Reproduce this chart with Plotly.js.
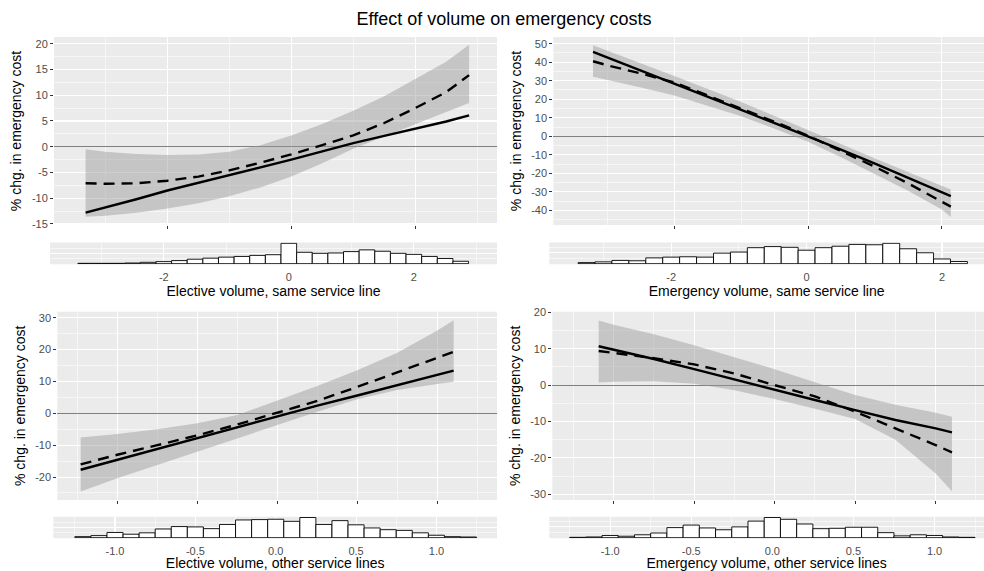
<!DOCTYPE html>
<html>
<head>
<meta charset="utf-8">
<script src="https://cdn.plot.ly/plotly-3.0.1.min.js"></script>
<style>html,body{margin:0;padding:0;background:#fff;}#chart{width:984px;height:571px;}</style>
</head>
<body>
<div id="chart"></div>
<script>
// ---------- Titles ----------
const chartTitle = "Effect of volume on emergency costs";
const yTitle = "% chg. in emergency cost";
const xTitles = ["Elective volume, same service line", "Emergency volume, same service line",
                 "Elective volume, other service lines", "Emergency volume, other service lines"];

// ---------- Panel 1: Elective volume, same service line ----------
const p1X      = [-3.32, -3, -2.5, -2, -1.5, -1, -0.5, 0, 0.5, 1, 1.5, 2, 2.5, 2.87];
const p1Solid  = [-12.8, -11.8, -10.2, -8.5, -7.0, -5.6, -4.1, -2.5, -0.9, 0.7, 2.1, 3.5, 4.9, 6.1];
const p1Dashed = [-7.1, -7.2, -7.1, -6.6, -5.8, -4.6, -3.1, -1.5, 0.3, 2.2, 4.6, 7.5, 10.6, 13.9];
const p1Upper  = [-0.5, -1.0, -1.4, -1.6, -1.5, -1.0, 0.3, 2.2, 4.4, 7.0, 9.8, 13.1, 16.5, 19.8];
const p1Lower  = [-13.6, -13.4, -12.8, -12.0, -11.0, -9.6, -7.9, -5.8, -3.2, -0.4, 2.0, 4.4, 6.8, 8.5];
const h1Bins   = [-3.25, -3.0, -2.75, -2.5, -2.25, -2.0, -1.75, -1.5, -1.25, -1.0, -0.75, -0.5, -0.25,
                  0.0, 0.25, 0.5, 0.75, 1.0, 1.25, 1.5, 1.75, 2.0, 2.25, 2.5, 2.75];
const h1Counts = [1, 1, 1, 2, 4, 6, 9, 13, 16, 19, 21, 24, 26, 59, 33, 30, 31, 35, 40, 36, 30, 27, 21, 15, 7];

// ---------- Panel 2: Emergency volume, same service line ----------
const p2X      = [-3.216, -3, -2.5, -2, -1.5, -1, -0.5, 0, 0.5, 1, 1.5, 2, 2.134];
const p2Solid  = [45.6, 42.5, 35.6, 28.5, 21.4, 14.2, 7.1, 0, -7.3, -14.8, -22.5, -30.2, -32.3];
const p2Dashed = [40.5, 38.3, 33.9, 29.0, 22.0, 15.0, 7.8, 0.3, -8.0, -16.5, -25.5, -35.5, -38.0];
const p2Upper  = [49.2, 46.3, 39.6, 32.5, 25.5, 18.5, 11.0, 3.5, -4.3, -12.0, -19.5, -27.0, -28.8];
const p2Lower  = [32.1, 30.4, 26.4, 22.0, 16.5, 10.8, 4.0, -3.0, -11.5, -20.5, -29.5, -39.5, -43.6];
const h2Bins   = [-3.25, -3.0, -2.75, -2.5, -2.25, -2.0, -1.75, -1.5, -1.25, -1.0, -0.75, -0.5, -0.25,
                  0.0, 0.25, 0.5, 0.75, 1.0, 1.25, 1.5, 1.75, 2.0, 2.25];
const h2Counts = [3, 5, 9, 8, 16, 18, 19, 18, 29, 32, 44, 47, 45, 37, 44, 48, 53, 52, 56, 41, 30, 13, 6];

// ---------- Panel 3: Elective volume, other service lines ----------
const p3X      = [-1.229, -1, -0.75, -0.5, -0.25, 0, 0.25, 0.5, 0.75, 1, 1.102];
const p3Solid  = [-17.7, -14.6, -11.2, -7.8, -4.3, -0.9, 2.4, 5.6, 8.9, 12.1, 13.4];
const p3Dashed = [-16.0, -13.0, -10.0, -6.9, -3.5, 0.1, 3.9, 8.3, 12.9, 17.6, 19.3];
const p3Upper  = [-7.6, -6.5, -5.0, -3.1, -0.5, 4.0, 8.6, 13.5, 19.0, 26.0, 29.2];
const p3Lower  = [-24.5, -20.4, -16.2, -12.0, -7.8, -3.7, 0.5, 4.4, 7.3, 9.2, 9.9];
const h3Bins   = [-1.2, -1.1, -1.0, -0.9, -0.8, -0.7, -0.6, -0.5, -0.4, -0.3, -0.2, -0.1, 0.0,
                  0.1, 0.2, 0.3, 0.4, 0.5, 0.6, 0.7, 0.8, 0.9, 1.0, 1.1, 1.2];
const h3Counts = [3, 6, 15, 10, 14, 25, 32, 31, 26, 38, 51, 52, 53, 47, 58, 38, 49, 37, 28, 23, 21, 14, 7, 3, 2];

// ---------- Panel 4: Emergency volume, other service lines ----------
const p4X      = [-1.093, -1, -0.75, -0.5, -0.25, 0, 0.25, 0.5, 0.75, 1, 1.101];
const p4Solid  = [10.7, 9.8, 7.2, 4.4, 1.5, -1.2, -4.1, -6.9, -9.6, -11.9, -13.0];
const p4Dashed = [9.4, 8.9, 7.4, 5.7, 3.2, 0.0, -3.1, -7.3, -11.8, -16.5, -18.5];
const p4Upper  = [17.8, 16.6, 14.0, 11.0, 7.7, 4.4, 0.8, -2.7, -5.4, -7.6, -8.7];
const p4Lower  = [0.7, 0.9, 1.1, 0.4, -1.4, -3.8, -6.5, -9.3, -15.0, -24.3, -29.2];
const h4Bins   = [-1.2, -1.1, -1.0, -0.9, -0.8, -0.7, -0.6, -0.5, -0.4, -0.3, -0.2, -0.1, 0.0,
                  0.1, 0.2, 0.3, 0.4, 0.5, 0.6, 0.7, 0.8, 0.9, 1.0, 1.1, 1.2];
const h4Counts = [1, 2, 6, 4, 8, 13, 28, 35, 27, 22, 30, 46, 56, 51, 38, 25, 26, 29, 29, 14, 5, 8, 6, 2, 1];

// ---------- Tick labels ----------
const xTicksWide   = [-2, 0, 2];
const xLabelsWide  = ["-2", "0", "2"];
const xTicksNarrow = [-1, -0.5, 0, 0.5, 1];
const xLabelsNarrow= ["-1.0", "-0.5", "0.0", "0.5", "1.0"];
const y1Ticks  = [-15, -10, -5, 0, 5, 10, 15, 20];
const y1Labels = ["-15", "-10", "-5", "0", "5", "10", "15", "20"];
const y2Ticks  = [-40, -30, -20, -10, 0, 10, 20, 30, 40, 50];
const y2Labels = ["-40", "-30", "-20", "-10", "0", "10", "20", "30", "40", "50"];
const y3Ticks  = [-20, -10, 0, 10, 20, 30];
const y3Labels = ["-20", "-10", "0", "10", "20", "30"];
const y4Ticks  = [-30, -20, -10, 0, 10, 20];
const y4Labels = ["-30", "-20", "-10", "0", "10", "20"];

// ---------- Build ----------
const FONT = "Liberation Sans, Arial, Helvetica, sans-serif";
const RIBBON = "rgba(150,150,150,0.45)";
const traces = [];

function addPanel(n, xs, solid, dashed, upper, lower, bins, counts, binW) {
  const xa = n === 1 ? "x" : "x" + (2 * n - 1);
  const ya = n === 1 ? "y" : "y" + (2 * n - 1);
  const hx = "x" + (2 * n), hy = "y" + (2 * n);
  traces.push({x: xs, y: lower, xaxis: xa, yaxis: ya, mode: "lines", line: {width: 0, color: RIBBON},
               showlegend: false, hoverinfo: "skip"});
  traces.push({x: xs, y: upper, xaxis: xa, yaxis: ya, mode: "lines", line: {width: 0, color: RIBBON},
               fill: "tonexty", fillcolor: RIBBON, showlegend: false, hoverinfo: "skip"});
  traces.push({x: xs, y: solid, xaxis: xa, yaxis: ya, mode: "lines", line: {width: 2.4, color: "#000"},
               showlegend: false});
  traces.push({x: xs, y: dashed, xaxis: xa, yaxis: ya, mode: "lines",
               line: {width: 2.4, color: "#000", dash: "11px,7px"}, showlegend: false});
  traces.push({type: "bar", x: bins, y: counts, width: binW, xaxis: hx, yaxis: hy,
               marker: {color: "#fff", line: {color: "#000", width: 0.9}}, showlegend: false});
}
addPanel(1, p1X, p1Solid, p1Dashed, p1Upper, p1Lower, h1Bins, h1Counts, 0.25);
addPanel(2, p2X, p2Solid, p2Dashed, p2Upper, p2Lower, h2Bins, h2Counts, 0.25);
addPanel(3, p3X, p3Solid, p3Dashed, p3Upper, p3Lower, h3Bins, h3Counts, 0.1);
addPanel(4, p4X, p4Solid, p4Dashed, p4Upper, p4Lower, h4Bins, h4Counts, 0.1);

const W = 984, H = 571;
const dx = (a, b) => [a / W, b / W];
const dy = (top, bot) => [1 - bot / H, 1 - top / H];

function mainX(anchor, dom, range, tv, minorDt) {
  return {domain: dom, range: range, anchor: anchor, tickmode: "array", tickvals: tv,
          showticklabels: false, ticks: "outside", ticklen: 3, tickwidth: 1, tickcolor: "#333",
          showgrid: true, gridcolor: "#fff", gridwidth: 1.1, zeroline: false, showline: false,
          minor: {tick0: 0, dtick: minorDt, showgrid: true, gridcolor: "#fff", gridwidth: 0.55},
          fixedrange: true};
}
function mainY(anchor, dom, range, tv, tt, minorDt) {
  return {domain: dom, range: range, anchor: anchor, tickmode: "array", tickvals: tv, ticktext: tt,
          ticks: "outside", ticklen: 3, tickwidth: 1, tickcolor: "#333",
          tickfont: {family: FONT, size: 11, color: "#4d4d4d"},
          showgrid: true, gridcolor: "#fff", gridwidth: 1.1,
          zeroline: true, zerolinecolor: "#808080", zerolinewidth: 1, showline: false,
          minor: {tick0: 0, dtick: minorDt, showgrid: true, gridcolor: "#fff", gridwidth: 0.55},
          title: {text: yTitle, font: {family: FONT, size: 14, color: "#000"}, standoff: 6},
          fixedrange: true};
}
function histX(anchor, dom, range, tv, tt, minorDt, title) {
  return {domain: dom, range: range, anchor: anchor, tickmode: "array", tickvals: tv, ticktext: tt,
          ticks: "outside", ticklen: 2, tickwidth: 1, tickcolor: "rgba(0,0,0,0)",
          tickfont: {family: FONT, size: 11, color: "#4d4d4d"},
          showgrid: true, gridcolor: "#fff", gridwidth: 1.1, zeroline: false, showline: false,
          minor: {tick0: 0, dtick: minorDt, showgrid: true, gridcolor: "#fff", gridwidth: 0.55},
          title: {text: title, font: {family: FONT, size: 14, color: "#000"}, standoff: 4},
          fixedrange: true};
}
function histY(anchor, dom, maxC) {
  return {domain: dom, range: [-0.03 * maxC, 1.04 * maxC], anchor: anchor, tickmode: "linear", tick0: 0, dtick: 30,
          showticklabels: false, ticks: "", showgrid: true, gridcolor: "#fff", gridwidth: 1.1,
          zeroline: false, showline: false,
          minor: {tick0: 0, dtick: 15, showgrid: true, gridcolor: "#fff", gridwidth: 0.55},
          fixedrange: true};
}

const layout = {
  width: W, height: H,
  margin: {l: 0, r: 0, t: 0, b: 0},
  paper_bgcolor: "#fff", plot_bgcolor: "#EBEBEB",
  font: {family: FONT, color: "#000"},
  showlegend: false, bargap: 0,
  title: {text: chartTitle, x: 504 / W, xanchor: "center", xref: "paper", y: 1 - 19 / H, yanchor: "middle",
          yref: "container", font: {family: FONT, size: 18, color: "#000"}},
  xaxis:  mainX("y",  dx(54, 497),  [-3.83, 3.32], xTicksWide, 1),
  yaxis:  mainY("x",  dy(37, 225),  [-15.2, 21.3], y1Ticks, y1Labels, 2.5),
  xaxis2: histX("y2", dx(50, 497),  [-3.82, 3.33], xTicksWide, xLabelsWide, 1, xTitles[0]),
  yaxis2: histY("x2", dy(242.5, 264.3), Math.max(...h1Counts)),
  xaxis3: mainX("y3", dx(553.3, 984), [-3.81, 2.63], xTicksWide, 1),
  yaxis3: mainY("x3", dy(37, 225),  [-47.9, 53.6], y2Ticks, y2Labels, 5),
  xaxis4: histX("y4", dx(549.3, 984), [-3.80, 2.62], xTicksWide, xLabelsWide, 1, xTitles[1]),
  yaxis4: histY("x4", dy(242.5, 264.3), Math.max(...h2Counts)),
  xaxis5: mainX("y5", dx(57.3, 497), [-1.375, 1.373], xTicksNarrow, 0.25),
  yaxis5: mainY("x5", dy(311.7, 500), [-27.2, 31.9], y3Ticks, y3Labels, 5),
  xaxis6: histX("y6", dx(53.3, 497), [-1.384, 1.377], xTicksNarrow, xLabelsNarrow, 0.25, xTitles[2]),
  yaxis6: histY("x6", dy(516.7, 538.3), Math.max(...h3Counts)),
  xaxis7: mainX("y7", dx(552.3, 984), [-1.381, 1.30], xTicksNarrow, 0.25),
  yaxis7: mainY("x7", dy(311.7, 500), [-31.6, 20.2], y4Ticks, y4Labels, 5),
  xaxis8: histX("y8", dx(549.3, 984), [-1.375, 1.305], xTicksNarrow, xLabelsNarrow, 0.25, xTitles[3]),
  yaxis8: histY("x8", dy(516.7, 538.3), Math.max(...h4Counts))
};

Plotly.newPlot("chart", traces, layout, {staticPlot: true, displayModeBar: false});
</script>
</body>
</html>
